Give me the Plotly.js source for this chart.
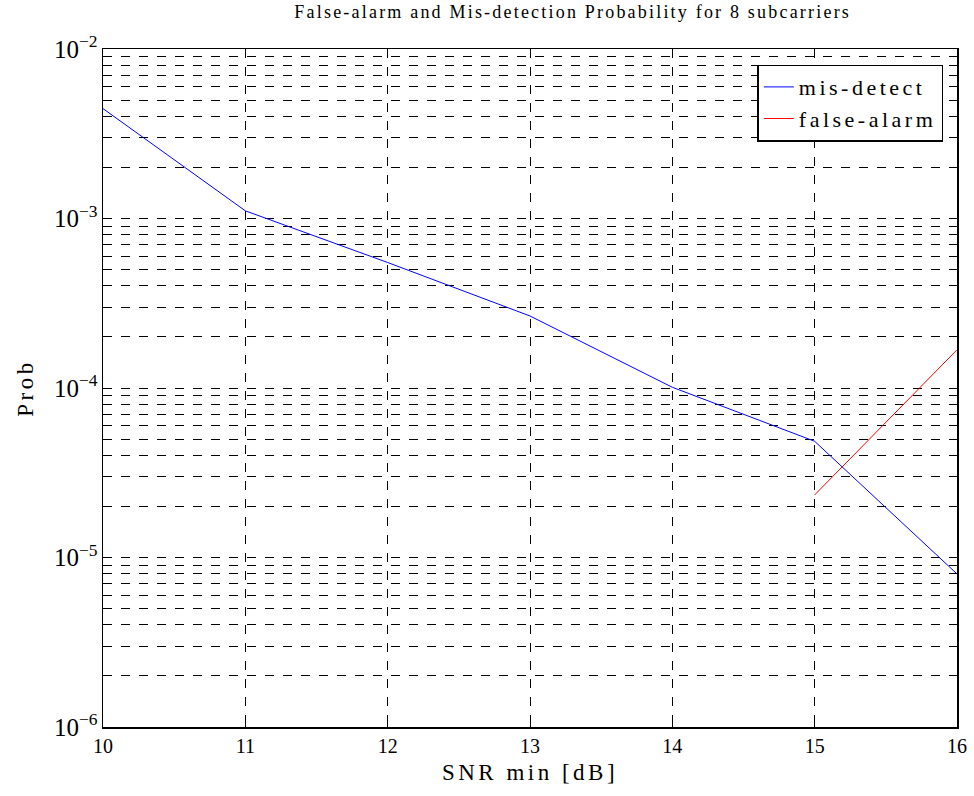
<!DOCTYPE html>
<html><head><meta charset="utf-8">
<script src="https://cdn.plot.ly/plotly-3.0.1.min.js"></script>
<style>
body{margin:0;background:#fff}#chart{width:974px;height:796px}
text.gtitle{letter-spacing:2.2px}
text.xtitle,text.ytitle{letter-spacing:3.5px}
text.legendtext{letter-spacing:3.5px}
</style>
</head><body><div id="chart"></div>
<script>
const snr = [10, 11, 12, 13, 14, 15, 16];
const misDetect = [4.45e-3, 1.11e-3, 5.5e-4, 2.66e-4, 1.01e-4, 4.85e-5, 8.0e-6];
const snrFalse = [15, 16];
const falseAlarm = [2.34e-5, 1.68e-4];
const seriesNames = ['mis-detect', 'false-alarm'];

const serif = 'Liberation Serif, Times New Roman, serif';
const traces = [
  {x: snr, y: misDetect, name: seriesNames[0], mode: 'lines', line: {color: '#0000ff', width: 1}},
  {x: snrFalse, y: falseAlarm, name: seriesNames[1], mode: 'lines', line: {color: '#ff0000', width: 1}}
];
const layout = {
  width: 974, height: 796,
  margin: {l: 103, r: 17, t: 49, b: 69},
  paper_bgcolor: '#fff', plot_bgcolor: '#fff',
  font: {family: serif, color: '#000', size: 18},
  title: {text: 'False-alarm and Mis-detection Probability for 8 subcarriers', x: 0.588, xanchor: 'center', y: 0.993, yanchor: 'top', font: {size: 18, family: serif, color: '#000'}},
  xaxis: {
    range: [10, 16], dtick: 1, tick0: 10,
    showline: true, linecolor: '#000', linewidth: 1.5, mirror: 'ticks',
    ticks: 'inside', ticklen: 6, tickcolor: '#000',
    showgrid: true, gridcolor: '#000', griddash: 'dash', gridwidth: 1,
    zeroline: false,
    tickfont: {size: 20, family: serif, color: '#000'},
    title: {text: 'SNR min [dB]', font: {size: 23, family: serif, color: '#000'}, standoff: 8}
  },
  yaxis: {
    type: 'log', range: [-6, -2], dtick: 1,
    exponentformat: 'power', showexponent: 'all',
    showline: true, linecolor: '#000', linewidth: 1.5, mirror: 'ticks',
    ticks: 'inside', ticklen: 6, tickcolor: '#000',
    showgrid: true, gridcolor: '#000', griddash: 'dash', gridwidth: 1,
    minor: {dtick: 'D1', ticks: 'inside', ticklen: 4, tickcolor: '#000', showgrid: true, gridcolor: '#000', griddash: 'dash', gridwidth: 1},
    zeroline: false,
    tickfont: {size: 20, family: serif, color: '#000'},
    title: {text: 'Prob', font: {size: 23, family: serif, color: '#000'}, standoff: 14}
  },
  legend: {
    x: 0.984, xanchor: 'right', y: 0.977, yanchor: 'top',
    bgcolor: '#fff', bordercolor: '#000', borderwidth: 1.5,
    font: {size: 22, family: serif, color: '#000'}
  },
  showlegend: true
};
Plotly.newPlot('chart', traces, layout, {displayModeBar: false, staticPlot: true});
</script></body></html>
